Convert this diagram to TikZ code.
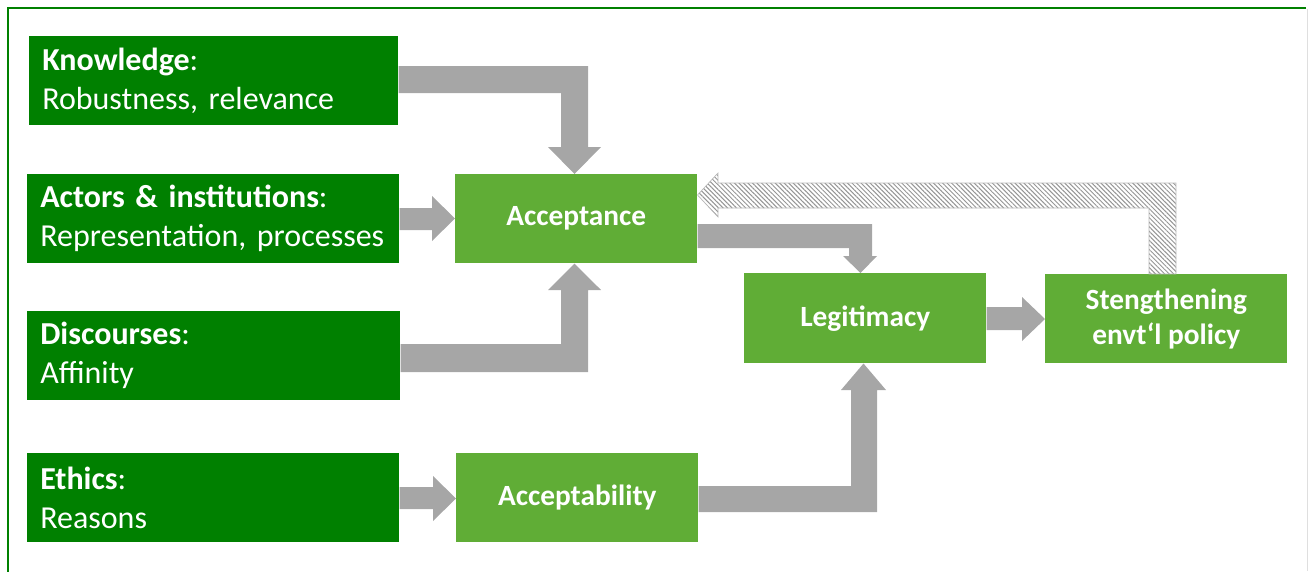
\documentclass[tikz,border=0pt]{standalone}
\usepackage{fontspec}
\setmainfont{Carlito}
\usetikzlibrary{patterns.meta}
\definecolor{dkgreen}{RGB}{0,128,0}
\definecolor{ltgreen}{RGB}{96,173,54}
\definecolor{arrgray}{RGB}{166,166,166}
\begin{document}
\begin{tikzpicture}[x=0.75pt,y=-0.75pt,
  darkbox/.style={fill=dkgreen,text=white,anchor=north west,inner xsep=9.75pt,inner ysep=0pt,align=left,font=\fontsize{24}{29.25}\selectfont,minimum height=66.75pt},
  lightbox/.style={fill=ltgreen,text=white,anchor=north west,inner sep=0pt,align=center,font=\bfseries\fontsize{22}{26.25}\selectfont,minimum height=66.75pt,minimum width=181.5pt},
  arr/.style={fill=arrgray},
  hatcharr/.style={draw=arrgray!80,line width=0.5pt,pattern={Lines[angle=-45,distance=2.4pt,line width=0.75pt]},pattern color=arrgray!90!black}
  ]
\useasboundingbox (0,0) rectangle (1309,571);
% frame
\draw[dkgreen,line width=1.5pt] (1306,8) -- (8,8) -- (8,575);
\draw[gray!25,line width=0.75pt] (1307,9) -- (1307,571);

% source boxes
\node[darkbox,text width=257.25pt] (know) at (29,36) {{\bfseries Knowledge}:\\Robustness, relevance};
\node[darkbox,text width=259.5pt] (actors) at (27,174) {{\bfseries Actors \& institutions}:\\Representation, processes};
\node[darkbox,text width=260.25pt] (disc) at (27,311) {{\bfseries Discourses}:\\Affinity};
\node[darkbox,text width=259.5pt] (ethics) at (27,453) {{\bfseries Ethics}:\\Reasons};

% result boxes
\node[lightbox] (acc) at (455,174) {Acceptance};
\node[lightbox] (accb) at (456,453) {Acceptability};
\node[lightbox,minimum height=67.5pt] (legit) at (744,273) {Legitimacy};
\node[lightbox] (streng) at (1045,274) {Stengthening\\envt‘l policy};

% arrows
\fill[arr] (know.east |- 0,66) -- (588,66) -- (588,147) -- (601,147) -- (acc.north -| 574.5,0) -- (548,147) -- (561,147) -- (561,93) -- (know.east |- 0,93) -- cycle;
\fill[arr] (actors.east |- 0,208) -- (432,208) -- (432,196) -- (acc.west |- 0,218.5) -- (432,241) -- (432,230) -- (actors.east |- 0,230) -- cycle;
\fill[arr] (disc.east |- 0,344) -- (561,344) -- (561,290) -- (548,290) -- (acc.south -| 574.5,0) -- (601,290) -- (588,290) -- (588,372) -- (disc.east |- 0,372) -- cycle;
\fill[arr] (acc.east |- 0,224) -- (872,224) -- (872,256) -- (877,256) -- (legit.north -| 860.5,0) -- (843,256) -- (849,256) -- (849,248) -- (acc.east |- 0,248) -- cycle;
\fill[arr] (ethics.east |- 0,487) -- (433,487) -- (433,476) -- (accb.west |- 0,498.5) -- (433,521) -- (433,509) -- (ethics.east |- 0,509) -- cycle;
\fill[arr] (accb.east |- 0,486) -- (851,486) -- (851,390) -- (841,390) -- (legit.south -| 863.5,0) -- (886,390) -- (877,390) -- (877,512) -- (accb.east |- 0,512) -- cycle;
\fill[arr] (legit.east |- 0,307) -- (1022,307) -- (1022,297) -- (streng.west |- 0,319) -- (1022,341) -- (1022,330) -- (legit.east |- 0,330) -- cycle;
% feedback (hatched)
\path[hatcharr] (streng.north -| 1149,0) -- (1149,208) -- (718,208) -- (718,217) -- (acc.east |- 0,195) -- (718,173) -- (718,183) -- (1176,183) -- (streng.north -| 1176,0) -- cycle;
\end{tikzpicture}
\end{document}
